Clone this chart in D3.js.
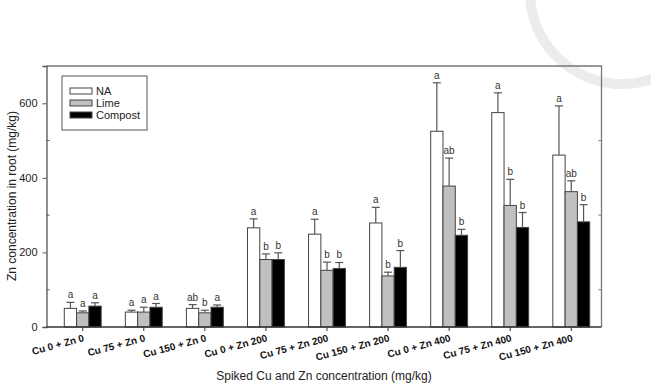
<!DOCTYPE html>
<html>
<head>
<meta charset="utf-8">
<script src="https://cdn.jsdelivr.net/npm/d3@7"></script>
<style>
  body { margin: 0; background: #fff; }
  text { font-family: Arial, "Liberation Sans", sans-serif; }
</style>
</head>
<body>
<script>
var groups = ["Cu 0 + Zn 0", "Cu 75 + Zn 0", "Cu 150 + Zn 0",
              "Cu 0 + Zn 200", "Cu 75 + Zn 200", "Cu 150 + Zn 200",
              "Cu 0 + Zn 400", "Cu 75 + Zn 400", "Cu 150 + Zn 400"];
var seriesNames = ["NA", "Lime", "Compost"];

var na = [50, 40, 50, 266, 249, 279, 525, 575, 461];
var naErr = [16, 5, 10, 24, 40, 42, 130, 53, 132];
var naLetters = ["a", "a", "ab", "a", "a", "a", "a", "a", "a"];

var lime = [38, 40, 38, 181, 152, 137, 378, 326, 363];
var limeErr = [5, 13, 7, 15, 22, 10, 75, 70, 29];
var limeLetters = ["a", "a", "b", "b", "b", "b", "ab", "b", "ab"];

var compost = [56, 53, 53, 181, 157, 160, 246, 267, 282];
var compostErr = [9, 10, 6, 18, 16, 45, 16, 40, 46];
var compostLetters = ["a", "a", "a", "b", "b", "b", "b", "b", "b"];

var yTicks = [0, 200, 400, 600];
var yMinor = [100, 300, 500];

var w = 651;
var h = 384;
var plotLeft = 46.5, plotRight = 601.5, plotTop = 66, plotBottom = 327;

var fills = ["#ffffff", "#c0c0c0", "#000000"];
var values = [na, lime, compost];
var errs = [naErr, limeErr, compostErr];
var letters = [naLetters, limeLetters, compostLetters];

// flatten into one record per bar
var bars = [];
groups.forEach(function(g, i) {
    seriesNames.forEach(function(s, j) {
        bars.push({ group: g, s: j, v: values[j][i], e: errs[j][i], l: letters[j][i] });
    });
});

var svg = d3.select("body")
    .append("svg")
    .attr("width", w)
    .attr("height", h);

// faint watermark seal, top right
svg.append("circle")
    .attr("cx", 622)
    .attr("cy", -8)
    .attr("r", 92)
    .attr("fill", "none")
    .attr("stroke", "#ececec")
    .attr("stroke-width", 10);

var xScale = d3.scaleBand()
    .domain(groups)
    .range([52.2, 601.8]);

var yScale = d3.scaleLinear()
    .domain([0, 700])
    .range([plotBottom, plotTop]);

var barW = 12.3;
function barX(d) {
    return xScale(d.group) + xScale.bandwidth() / 2 - 1.5 * barW + d.s * barW;
}

// frame (top and right)
svg.append("path")
    .attr("d", "M" + plotLeft + "," + plotTop + "H" + plotRight + "V" + plotBottom)
    .attr("fill", "none")
    .attr("stroke", "#777")
    .attr("stroke-width", 1.3);

// right side minor ticks pointing in
svg.selectAll(".rtick")
    .data(yMinor)
    .enter()
    .append("line")
    .attr("x1", plotRight - 3)
    .attr("x2", plotRight)
    .attr("y1", function(d) { return yScale(d); })
    .attr("y2", function(d) { return yScale(d); })
    .attr("stroke", "#777");

// bars
svg.selectAll(".bar")
    .data(bars)
    .enter()
    .append("rect")
    .attr("x", barX)
    .attr("y", function(d) { return yScale(d.v); })
    .attr("width", barW)
    .attr("height", function(d) { return plotBottom - yScale(d.v); })
    .attr("fill", function(d) { return fills[d.s]; })
    .attr("stroke", "#444")
    .attr("stroke-width", 1);

// error bars (upper only)
var eb = svg.selectAll(".err")
    .data(bars)
    .enter()
    .append("g")
    .attr("stroke", "#555")
    .attr("stroke-width", 1.2);
eb.append("line")
    .attr("x1", function(d) { return barX(d) + barW / 2; })
    .attr("x2", function(d) { return barX(d) + barW / 2; })
    .attr("y1", function(d) { return yScale(d.v); })
    .attr("y2", function(d) { return yScale(d.v + d.e); });
eb.append("line")
    .attr("x1", function(d) { return barX(d) + barW / 2 - 4; })
    .attr("x2", function(d) { return barX(d) + barW / 2 + 4; })
    .attr("y1", function(d) { return yScale(d.v + d.e); })
    .attr("y2", function(d) { return yScale(d.v + d.e); });

// significance letters
svg.selectAll(".letter")
    .data(bars)
    .enter()
    .append("text")
    .attr("x", function(d) { return barX(d) + barW / 2; })
    .attr("y", function(d) { return yScale(d.v + d.e) - 4; })
    .attr("text-anchor", "middle")
    .attr("font-size", "10px")
    .attr("fill", "#333")
    .text(function(d) { return d.l; });

// y axis
var yAxis = d3.axisLeft(yScale)
    .tickValues(yTicks)
    .tickSize(4)
    .tickPadding(5);
var ya = svg.append("g")
    .attr("transform", "translate(" + plotLeft + ",0)")
    .call(yAxis);
ya.select(".domain").attr("stroke", "#555").attr("stroke-width", 1.3);
ya.selectAll(".tick line").attr("stroke", "#555");
ya.selectAll(".tick text").attr("font-size", "11px").attr("fill", "#222")
    .style("font-family", "Arial, 'Liberation Sans', sans-serif");

svg.selectAll(".lminor")
    .data(yMinor)
    .enter()
    .append("line")
    .attr("x1", plotLeft)
    .attr("x2", plotLeft + 3)
    .attr("y1", function(d) { return yScale(d); })
    .attr("y2", function(d) { return yScale(d); })
    .attr("stroke", "#555");

// x axis
var xAxis = d3.axisBottom(xScale)
    .tickSize(4)
    .tickFormat("");
var xa = svg.append("g")
    .attr("transform", "translate(0," + plotBottom + ")")
    .call(xAxis);
xa.select(".domain")
    .attr("d", "M" + plotLeft + ",0H" + plotRight)
    .attr("stroke", "#333")
    .attr("stroke-width", 1.3);
xa.selectAll(".tick line").attr("stroke", "#333");

// rotated group labels
svg.selectAll(".xlab")
    .data(groups)
    .enter()
    .append("text")
    .attr("transform", function(d) {
        var x = xScale(d) + xScale.bandwidth() / 2 + 2;
        return "translate(" + x + "," + (plotBottom + 14) + ") rotate(-15)";
    })
    .attr("text-anchor", "end")
    .attr("font-size", "10px")
    .attr("font-weight", "bold")
    .attr("fill", "#111")
    .text(function(d) { return d; });

// legend
var lg = svg.append("g");
lg.append("rect")
    .attr("x", 62)
    .attr("y", 76)
    .attr("width", 85)
    .attr("height", 54)
    .attr("fill", "#fff")
    .attr("stroke", "#555");
lg.selectAll(".sw")
    .data(seriesNames)
    .enter()
    .append("rect")
    .attr("x", 70)
    .attr("y", function(d, i) { return 88 + i * 12; })
    .attr("width", 22)
    .attr("height", 6)
    .attr("fill", function(d, i) { return fills[i]; })
    .attr("stroke", "#444");
lg.selectAll(".lt")
    .data(seriesNames)
    .enter()
    .append("text")
    .attr("x", 96)
    .attr("y", function(d, i) { return 95 + i * 12; })
    .attr("font-size", "11px")
    .attr("fill", "#222")
    .text(function(d) { return d; });

// X axis label:
svg.append("text")
    .attr("text-anchor", "middle")
    .attr("x", 324)
    .attr("y", 380)
    .attr("font-size", "12px")
    .attr("fill", "#222")
    .text("Spiked Cu and Zn concentration (mg/kg)");

// Y axis label:
svg.append("text")
    .attr("text-anchor", "middle")
    .attr("transform", "rotate(-90)")
    .attr("x", -196)
    .attr("y", 16)
    .attr("font-size", "12px")
    .attr("fill", "#222")
    .text("Zn concentration in root (mg/kg)");
</script>
</body>
</html>
